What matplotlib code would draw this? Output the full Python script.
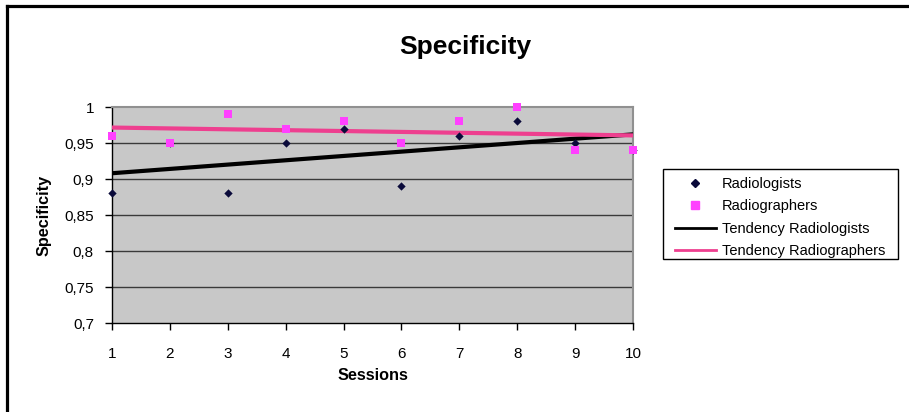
import numpy as np
import matplotlib
matplotlib.use("Agg")
import matplotlib.pyplot as plt
from matplotlib.lines import Line2D
from matplotlib.patches import Rectangle
from matplotlib.ticker import FuncFormatter

plt.rcParams['font.family'] = ['Liberation Sans', 'DejaVu Sans']

sessions = [1, 2, 3, 4, 5, 6, 7, 8, 9, 10]
radiologists = [0.88, 0.95, 0.88, 0.95, 0.97, 0.89, 0.96, 0.98, 0.95, 0.94]
radiographers = [0.96, 0.95, 0.99, 0.97, 0.98, 0.95, 0.98, 1.00, 0.94, 0.94]
y_ticks = [0.7, 0.75, 0.8, 0.85, 0.9, 0.95, 1.0]

W, H = 909, 412
fig = plt.figure(figsize=(W / 100, H / 100), dpi=100)
ax = fig.add_axes([112 / W, 1 - 323 / H, (633 - 112) / W, (323 - 107) / H])
ax.set_facecolor('#c8c8c8')

x = np.array(sessions, dtype=float)
p1 = np.polyfit(x, radiologists, 1)
p2 = np.polyfit(x, radiographers, 1)
xx = np.array([x.min(), x.max()])

for yv in y_ticks[1:-1]:
    ax.axhline(yv, color='#3a3a3a', lw=1.0, zorder=1)

ax.plot(xx, np.polyval(p1, xx), color='black', lw=3, zorder=3, solid_capstyle='butt')
ax.plot(xx, np.polyval(p2, xx), color='#ee3f8f', lw=3, zorder=3, solid_capstyle='butt')
ax.scatter(x, radiologists, marker='D', s=18, color='#0a0a3a', zorder=4, clip_on=False, linewidths=0)
ax.scatter(x, radiographers, marker='s', s=32, color='#ff40ff', zorder=5, clip_on=False, linewidths=0)

ax.set_xlim(1, 10)
ax.set_ylim(0.7, 1.0)
ax.set_xticks(sessions)
ax.set_yticks(y_ticks)
ax.yaxis.set_major_formatter(FuncFormatter(lambda v, p: ('%g' % round(v, 2)).replace('.', ',')))
ax.tick_params(axis='both', direction='out', length=5, width=1, labelsize=11, colors='black')
ax.tick_params(axis='x', pad=12)
ax.tick_params(axis='y', pad=8)
for s in ['left', 'bottom']:
    ax.spines[s].set_color('black')
    ax.spines[s].set_linewidth(1)
for s in ['right', 'top']:
    ax.spines[s].set_color('#909090')
    ax.spines[s].set_linewidth(1.5)

ax.set_xlabel('Sessions', fontsize=11.7, fontweight='bold', labelpad=5)
ax.set_ylabel('Specificity', fontsize=11.7, fontweight='bold', labelpad=9)
fig.text(465 / W, 1 - 47 / H, 'Specificity', ha='center', va='center', fontsize=19, fontweight='bold')

handles = [
    Line2D([], [], ls='none', marker='D', markersize=4.5, color='#0a0a3a'),
    Line2D([], [], ls='none', marker='s', markersize=6, color='#ff40ff'),
    Line2D([], [], color='black', lw=2),
    Line2D([], [], color='#ee3f8f', lw=2),
]
labels = ['Radiologists', 'Radiographers', 'Tendency Radiologists', 'Tendency Radiographers']
fig.add_artist(Rectangle((663 / W, 1 - 259 / H), (898 - 663) / W, 90 / H, transform=fig.transFigure,
                         facecolor='white', edgecolor='black', lw=1, zorder=2))
leg = fig.legend(handles, labels, loc='upper left', bbox_to_anchor=(675 / W, 1 - 177 / H),
                 frameon=False, fontsize=10.5,
                 handlelength=2.8, handletextpad=0.4, labelspacing=0.58,
                 borderpad=0, borderaxespad=0)
leg.set_zorder(3)

# outer chart border (left and top edges only visible)
fig.add_artist(Line2D([7 / W, 7 / W], [0, 1 - 6 / H], color='black', lw=2.3, transform=fig.transFigure))
fig.add_artist(Line2D([7 / W, 1], [1 - 6 / H, 1 - 6 / H], color='black', lw=2.3, transform=fig.transFigure))

fig.savefig('out.png', dpi=100)
